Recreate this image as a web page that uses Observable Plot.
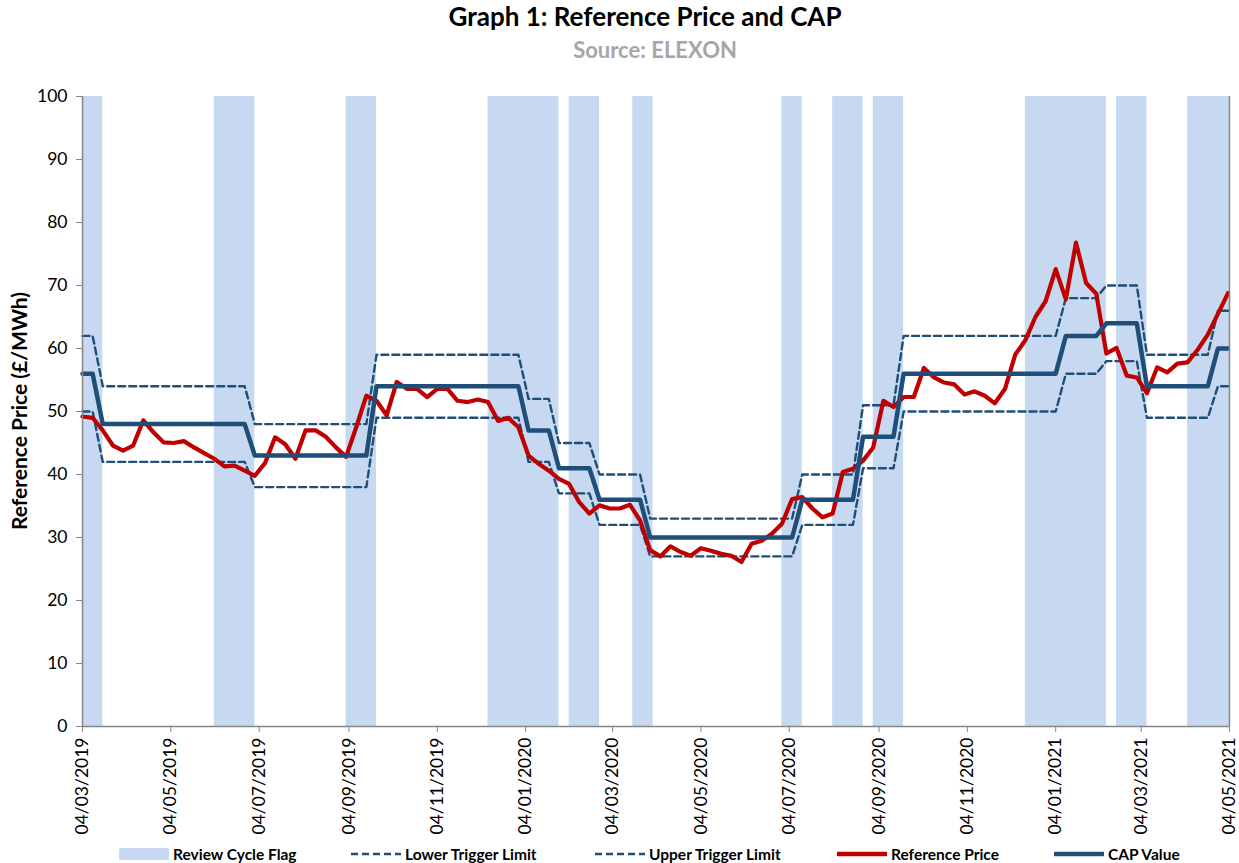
<!DOCTYPE html>
<html>
<head>
<meta charset="utf-8">
<script src="https://cdn.jsdelivr.net/npm/d3@7"></script>
<script src="https://cdn.jsdelivr.net/npm/@observablehq/plot@0.6"></script>
<style>
  html, body { margin: 0; padding: 0; background: #fff; }
  #wrap { position: relative; width: 1239px; height: 863px; font-family: Lato, "Open Sans", sans-serif; overflow: hidden; }
  #title { position: absolute; left: 0; width: 1290px; top: 0px; text-align: center; font-weight: 700; font-size: 26px; color: #000; }
  #source { position: absolute; left: 0; width: 1310px; top: 36px; text-align: center; font-weight: 700; font-size: 22px; color: #A6A6A6; }
  #chart { position: absolute; left: 0; top: 0; }
  #ylab { position: absolute; left: 18px; top: 411px; transform: translate(-50%, -50%) rotate(-90deg); white-space: nowrap; font-weight: 700; font-size: 21px; color: #000; }
  .leg { position: absolute; top: 845px; height: 18px; display: flex; align-items: center; font-weight: 700; font-size: 15.5px; color: #000; white-space: nowrap; }
</style>
</head>
<body>
<div id="wrap">
  <div id="chart"></div>
  <div id="title">Graph 1: Reference Price and CAP</div>
  <div id="source">Source: ELEXON</div>
  <div id="ylab">Reference Price (£/MWh)</div>
  <div id="legend"></div>
</div>
<script>
// ---------- data (weekly observations starting 04/03/2019) ----------
const firstWeek = "2019-03-04";

const referencePrice = [
  49.2, 49.0, 47.0, 44.6, 43.8, 44.6, 48.6, 46.7, 45.1, 45.0,
  45.3, 44.3, 43.4, 42.5, 41.3, 41.4, 40.6, 39.8, 41.8, 45.9,
  44.8, 42.5, 47.0, 47.0, 46.0, 44.3, 42.8, 47.5, 52.5, 51.7,
  49.4, 54.7, 53.6, 53.6, 52.3, 53.6, 53.6, 51.7, 51.5, 51.9,
  51.5, 48.5, 49.0, 47.5, 43.0, 41.7, 40.6, 39.3, 38.5, 35.6,
  33.8, 35.1, 34.6, 34.6, 35.2, 32.7, 28.0, 27.0, 28.6, 27.7,
  27.1, 28.3, 27.9, 27.4, 27.1, 26.1, 29.0, 29.5, 30.6, 32.2,
  36.1, 36.4, 34.6, 33.2, 33.8, 40.4, 40.9, 42.2, 44.3, 51.7,
  50.7, 52.3, 52.3, 56.9, 55.4, 54.6, 54.3, 52.7, 53.2, 52.5,
  51.3, 53.6, 59.0, 61.3, 65.0, 67.5, 72.6, 67.8, 76.8, 70.4,
  68.7, 59.2, 60.1, 55.7, 55.4, 52.9, 57.0, 56.2, 57.6, 57.8,
  59.8, 62.2, 65.5, 68.8
];

const capValue = [
  56, 56, 48, 48, 48, 48, 48, 48, 48, 48,
  48, 48, 48, 48, 48, 48, 48, 43, 43, 43,
  43, 43, 43, 43, 43, 43, 43, 43, 43, 54,
  54, 54, 54, 54, 54, 54, 54, 54, 54, 54,
  54, 54, 54, 54, 47, 47, 47, 41, 41, 41,
  41, 36, 36, 36, 36, 36, 30, 30, 30, 30,
  30, 30, 30, 30, 30, 30, 30, 30, 30, 30,
  30, 36, 36, 36, 36, 36, 36, 46, 46, 46,
  46, 56, 56, 56, 56, 56, 56, 56, 56, 56,
  56, 56, 56, 56, 56, 56, 56, 62, 62, 62,
  62, 64, 64, 64, 64, 54, 54, 54, 54, 54,
  54, 54, 60, 60
];

const upperTrigger = [
  62, 62, 54, 54, 54, 54, 54, 54, 54, 54,
  54, 54, 54, 54, 54, 54, 54, 48, 48, 48,
  48, 48, 48, 48, 48, 48, 48, 48, 48, 59,
  59, 59, 59, 59, 59, 59, 59, 59, 59, 59,
  59, 59, 59, 59, 52, 52, 52, 45, 45, 45,
  45, 40, 40, 40, 40, 40, 33, 33, 33, 33,
  33, 33, 33, 33, 33, 33, 33, 33, 33, 33,
  33, 40, 40, 40, 40, 40, 40, 51, 51, 51,
  51, 62, 62, 62, 62, 62, 62, 62, 62, 62,
  62, 62, 62, 62, 62, 62, 62, 68, 68, 68,
  68, 70, 70, 70, 70, 59, 59, 59, 59, 59,
  59, 59, 66, 66
];

const lowerTrigger = [
  50, 50, 42, 42, 42, 42, 42, 42, 42, 42,
  42, 42, 42, 42, 42, 42, 42, 38, 38, 38,
  38, 38, 38, 38, 38, 38, 38, 38, 38, 49,
  49, 49, 49, 49, 49, 49, 49, 49, 49, 49,
  49, 49, 49, 49, 42, 42, 42, 37, 37, 37,
  37, 32, 32, 32, 32, 32, 27, 27, 27, 27,
  27, 27, 27, 27, 27, 27, 27, 27, 27, 27,
  27, 32, 32, 32, 32, 32, 32, 41, 41, 41,
  41, 50, 50, 50, 50, 50, 50, 50, 50, 50,
  50, 50, 50, 50, 50, 50, 50, 56, 56, 56,
  56, 58, 58, 58, 58, 49, 49, 49, 49, 49,
  49, 49, 54, 54
];

// Review cycle flag periods (start, end)
const reviewStart = ["2019-03-04", "2019-06-03", "2019-09-02", "2019-12-09", "2020-02-03", "2020-03-18",
                     "2020-06-29", "2020-08-03", "2020-08-31", "2020-12-14", "2021-02-15", "2021-04-05"];
const reviewEnd   = ["2019-03-18", "2019-07-01", "2019-09-23", "2020-01-27", "2020-02-24", "2020-04-01",
                     "2020-07-13", "2020-08-24", "2020-09-21", "2021-02-08", "2021-03-08", "2021-05-04"];

const xTickLabels = ["04/03/2019", "04/05/2019", "04/07/2019", "04/09/2019", "04/11/2019", "04/01/2020",
                     "04/03/2020", "04/05/2020", "04/07/2020", "04/09/2020", "04/11/2020", "04/01/2021",
                     "04/03/2021", "04/05/2021"];
const yTicks = [0, 10, 20, 30, 40, 50, 60, 70, 80, 90, 100];

// ---------- build ----------
const parseIso = d3.utcParse("%Y-%m-%d");
const parseTick = d3.utcParse("%d/%m/%Y");
const start = parseIso(firstWeek);
const rows = referencePrice.map((v, i) => ({
  date: d3.utcDay.offset(start, 7 * i),
  ref: v, cap: capValue[i], upper: upperTrigger[i], lower: lowerTrigger[i]
}));
const flags = reviewStart.map((s, i) => ({ x1: parseIso(s), x2: parseIso(reviewEnd[i]) }));
const tickDates = xTickLabels.map(parseTick);
const labelOf = new Map(tickDates.map((d, i) => [+d, xTickLabels[i]]));
const xDomain = [tickDates[0], tickDates[tickDates.length - 1]];

const BLUE = "#1F4E79", RED = "#C00000", FLAG = "#C6D9F0", AXIS = "#868686";

const chart = Plot.plot({
  width: 1239,
  height: 863,
  marginLeft: 82,
  marginRight: 10,
  marginTop: 96,
  marginBottom: 137,
  style: { fontFamily: "Lato, 'Open Sans', sans-serif", fontSize: "17.5px", color: "#000", background: "transparent" },
  x: { type: "utc", domain: xDomain, label: null },
  y: { domain: [0, 100], label: null },
  marks: [
    Plot.rect(flags, { x1: "x1", x2: "x2", y1: 0, y2: 100, fill: FLAG }),
    Plot.lineY(rows, { x: "date", y: "lower", stroke: BLUE, strokeWidth: 2.4, strokeDasharray: "7,4" }),
    Plot.lineY(rows, { x: "date", y: "upper", stroke: BLUE, strokeWidth: 2.4, strokeDasharray: "7,4" }),
    Plot.lineY(rows, { x: "date", y: "ref", stroke: RED, strokeWidth: 4.2, strokeLinejoin: "round" }),
    Plot.lineY(rows, { x: "date", y: "cap", stroke: BLUE, strokeWidth: 4.5, strokeLinejoin: "round" }),
    Plot.ruleX([xDomain[0]], { stroke: AXIS, strokeWidth: 1.5 }),
    Plot.ruleX([xDomain[1]], { stroke: AXIS, strokeWidth: 1.5 }),
    Plot.ruleY([0], { stroke: AXIS, strokeWidth: 1.5 }),
    Plot.axisX({ ticks: tickDates, tickFormat: d => labelOf.get(+d), tickRotate: -90, tickSize: 6, tickPadding: 5, stroke: AXIS, label: null, fontSize: 17.5 }),
    Plot.axisY({ ticks: yTicks, tickSize: 6, tickPadding: 9, stroke: AXIS, label: null, fontSize: 17.5 })
  ]
});
chart.querySelectorAll("text").forEach(t => t.setAttribute("fill", "#000"));
document.getElementById("chart").appendChild(chart);

// ---------- legend ----------
const legendItems = [
  { label: "Review Cycle Flag", x: 119, kind: "rect", color: FLAG },
  { label: "Lower Trigger Limit", x: 351, kind: "dash", color: BLUE },
  { label: "Upper Trigger Limit", x: 595, kind: "dash", color: BLUE },
  { label: "Reference Price", x: 837, kind: "line", color: RED },
  { label: "CAP Value", x: 1054, kind: "line", color: BLUE }
];
const leg = document.getElementById("legend");
legendItems.forEach(it => {
  const d = document.createElement("div");
  d.className = "leg";
  d.style.left = it.x + "px";
  const sw = document.createElementNS("http://www.w3.org/2000/svg", "svg");
  sw.setAttribute("width", 50); sw.setAttribute("height", 14);
  sw.style.marginRight = "4px";
  if (it.kind === "rect") {
    sw.innerHTML = `<rect x="0" y="1" width="50" height="12" rx="2" fill="${it.color}"/>`;
  } else if (it.kind === "dash") {
    sw.innerHTML = `<line x1="0" x2="50" y1="7" y2="7" stroke="${it.color}" stroke-width="2.4" stroke-dasharray="7,4"/>`;
  } else {
    sw.innerHTML = `<line x1="1" x2="49" y1="7" y2="7" stroke="${it.color}" stroke-width="4.5" stroke-linecap="round"/>`;
  }
  d.appendChild(sw);
  const s = document.createElement("span");
  s.textContent = it.label;
  d.appendChild(s);
  leg.appendChild(d);
});
</script>
</body>
</html>
